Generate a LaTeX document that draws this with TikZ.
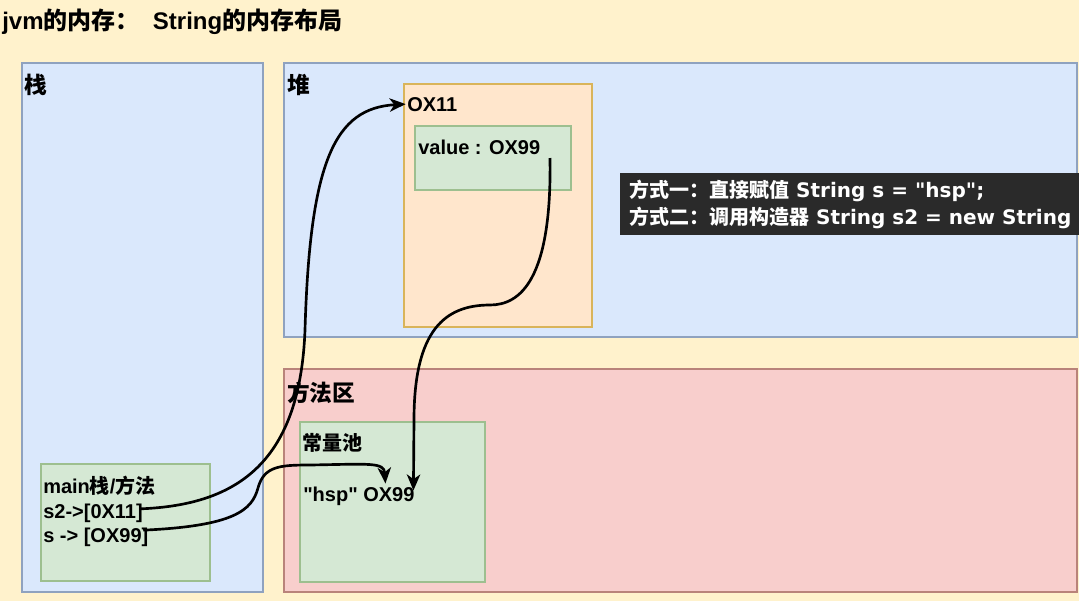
\documentclass[tikz,border=0pt]{standalone}
\usepackage{fontspec}
\usetikzlibrary{arrows.meta}
\setmainfont{Liberation Sans}[Ligatures=TeXOff]
\newfontfamily\cjkfont{Noto Sans CJK SC}
\newfontfamily\tipfont{DejaVu Sans}
\newcommand{\zh}[1]{{\cjkfont #1}}
\definecolor{bgyellow}{HTML}{FFF2CC}
\definecolor{stackfill}{HTML}{DAE8FC}
\definecolor{stackline}{HTML}{8FA2BF}
\definecolor{areafill}{HTML}{F8CECC}
\definecolor{arealine}{HTML}{B9837A}
\definecolor{objfill}{HTML}{FFE6CC}
\definecolor{objline}{HTML}{D9B45A}
\definecolor{cellfill}{HTML}{D5E8D4}
\definecolor{cellline}{HTML}{9DBF8F}
\definecolor{tipfill}{HTML}{2A2A2A}
\begin{document}
\begin{tikzpicture}[x=0.75pt,y=-0.75pt,
		font=\fontsize{15}{18}\selectfont\bfseries,
		>={Stealth[length=12pt,width=10pt,inset=3.5pt]},
		txt/.style={anchor=base west,inner sep=0pt},
		lbl/.style={txt,font=\fontsize{17}{20}\selectfont\bfseries},
		tiptxt/.style={txt,white,font=\fontsize{15}{18}\selectfont\bfseries\tipfont},
		bluebox/.style={fill=stackfill,draw=stackline,line width=0.8pt},
		redbox/.style={fill=areafill,draw=arealine,line width=0.8pt},
		orangebox/.style={fill=objfill,draw=objline,line width=0.8pt},
		greenbox/.style={fill=cellfill,draw=cellline,line width=0.8pt},
		link/.style={->,line width=2pt}]
		\fill[bgyellow] (0,0) rectangle (1079,601);
		\useasboundingbox (0,0) rectangle (1079,601);
		\node[txt,font=\fontsize{18}{20}\selectfont\bfseries] (title) at (2,29) {jvm\zh{的内存：}\ \ String\zh{的内存布局}};
		\draw[bluebox] (22,63) rectangle (263,592);
		\draw[bluebox] (284,63) rectangle (1077,337);
		\draw[redbox] (284,369) rectangle (1077,592);
		\draw[orangebox] (404,84) rectangle (592,327);
		\draw[greenbox] (415,126) rectangle (571,190);
		\draw[greenbox] (300,422) rectangle (485,582);
		\draw[greenbox] (41,464) rectangle (210,581);
		\fill[tipfill] (620,173) rectangle (1085,235);
		\node[lbl] (stacklbl) at (24,93) {\zh{栈}};
		\node[lbl] (heaplbl) at (287,93) {\zh{堆}};
		\node[lbl] (methodlbl) at (287,401) {\zh{方法区}};
		\node[txt] (ox11) at (407,111) {OX11};
		\node[txt] (valtext) at (418,154) {value : OX99};
		\node[tiptxt] (tip1) at (629,197) {\zh{方式一：直接赋值} String s = "hsp";};
		\node[tiptxt] (tip2) at (629,224) {\zh{方式二：调用构造器} String s2 = new String};
		\node[txt] (poollbl) at (302,450) {\zh{常量池}};
		\node[txt] (hsp) at (303,501) {"hsp" OX99};
		\node[txt] (mainlbl) at (43,493) {main\zh{栈}/\zh{方法}};
		\node[txt] (s2line) at (43,518) {s2->[0X11]};
		\node[txt] (sline) at (43,542) {s -> [OX99]};
		\coordinate (v99) at (550,158);
		\draw[link] ([xshift=-2pt,yshift=3pt]s2line.east) .. controls (240,505) and (300,460) .. (305,330) .. controls (310,160) and (335,108) .. ([xshift=-1pt]ox11.west);
		\draw[link] ([xshift=-4pt,yshift=5pt]sline.east) .. controls (235,526) and (252,510) .. (258,488) .. controls (264,466) and (280,465) .. (310,465) .. controls (370,464) and (384,462) .. ([xshift=-22pt,yshift=2pt]hsp.north east);
		\draw[link] (v99) .. controls (552,280) and (520,305) .. (490,305) .. controls (445,305) and (414,330) .. (414,420) -- ([xshift=-1pt,yshift=4pt]hsp.east);
	\end{tikzpicture}
\end{document}
